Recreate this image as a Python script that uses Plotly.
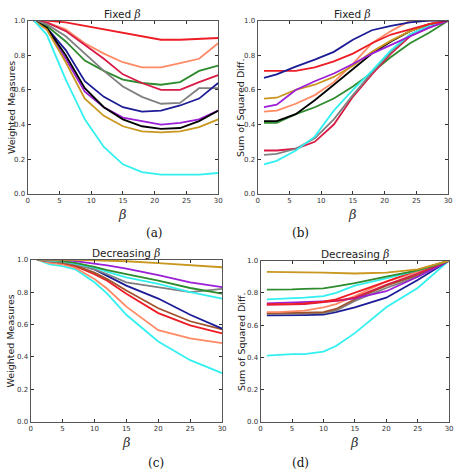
import plotly.graph_objects as go

W, H = 460, 474

beta_fixed = [1, 3, 6, 9, 12, 15, 18, 21, 24, 27, 30]
beta_dec = [1, 3, 5, 7, 10, 12, 15, 20, 25, 30]

# Panel (a): Fixed beta, Weighted Measures
a_red = [1.0, 1.0, 0.99, 0.97, 0.95, 0.93, 0.91, 0.89, 0.89, 0.895, 0.90]
a_coral = [1.0, 0.99, 0.95, 0.87, 0.81, 0.76, 0.73, 0.73, 0.755, 0.78, 0.87]
a_crimson = [1.0, 0.99, 0.94, 0.86, 0.78, 0.69, 0.64, 0.60, 0.60, 0.645, 0.685]
a_green = [1.0, 0.97, 0.88, 0.77, 0.71, 0.66, 0.64, 0.63, 0.645, 0.71, 0.74]
a_gray = [1.0, 0.98, 0.91, 0.81, 0.71, 0.62, 0.56, 0.52, 0.525, 0.61, 0.61]
a_navy = [1.0, 0.96, 0.83, 0.65, 0.56, 0.50, 0.475, 0.48, 0.51, 0.55, 0.64]
a_purple = [1.0, 0.95, 0.78, 0.59, 0.50, 0.44, 0.42, 0.40, 0.41, 0.43, 0.48]
a_black = [1.0, 0.96, 0.80, 0.61, 0.50, 0.43, 0.39, 0.375, 0.38, 0.42, 0.48]
a_gold = [1.0, 0.95, 0.76, 0.55, 0.45, 0.39, 0.36, 0.355, 0.36, 0.385, 0.43]
a_cyan = [1.0, 0.92, 0.66, 0.43, 0.27, 0.17, 0.125, 0.11, 0.11, 0.11, 0.12]

# Panel (b): Fixed beta, Sum of Squared Diff.
b_navy = [0.67, 0.69, 0.735, 0.775, 0.82, 0.89, 0.945, 0.97, 0.99, 1.0, 1.0]
b_red = [0.71, 0.71, 0.71, 0.73, 0.765, 0.81, 0.87, 0.92, 0.95, 0.98, 1.0]
b_purple = [0.50, 0.515, 0.60, 0.65, 0.695, 0.75, 0.81, 0.86, 0.91, 0.96, 1.0]
b_gold = [0.55, 0.555, 0.60, 0.63, 0.675, 0.74, 0.82, 0.885, 0.94, 0.98, 1.0]
b_coral = [0.475, 0.48, 0.52, 0.57, 0.645, 0.75, 0.87, 0.94, 1.0, 1.0, 1.0]
b_black = [0.42, 0.42, 0.46, 0.54, 0.63, 0.72, 0.81, 0.88, 0.94, 0.98, 1.0]
b_green = [0.41, 0.41, 0.46, 0.50, 0.55, 0.62, 0.70, 0.79, 0.87, 0.93, 1.0]
b_crimson = [0.25, 0.25, 0.26, 0.30, 0.40, 0.56, 0.69, 0.81, 0.91, 0.96, 1.0]
b_gray = [0.225, 0.23, 0.26, 0.32, 0.43, 0.57, 0.70, 0.82, 0.92, 0.97, 1.0]
b_cyan = [0.17, 0.19, 0.25, 0.33, 0.48, 0.60, 0.71, 0.83, 0.92, 0.97, 1.0]

# Panel (c): Decreasing beta, Weighted Measures
c_gold = [1.0, 1.0, 1.0, 0.998, 0.995, 0.993, 0.99, 0.978, 0.965, 0.953]
c_purple = [1.0, 1.0, 1.0, 0.99, 0.975, 0.965, 0.945, 0.905, 0.86, 0.83]
c_green = [1.0, 1.0, 0.99, 0.98, 0.955, 0.935, 0.91, 0.87, 0.825, 0.79]
c_cyan_top = [1.0, 0.995, 0.99, 0.975, 0.95, 0.925, 0.89, 0.85, 0.80, 0.76]
c_gray = [1.0, 0.99, 0.985, 0.97, 0.94, 0.91, 0.86, 0.83, 0.80, 0.82]
c_navy = [1.0, 0.995, 0.99, 0.975, 0.94, 0.90, 0.84, 0.76, 0.66, 0.575]
c_brown = [1.0, 0.99, 0.98, 0.965, 0.92, 0.88, 0.81, 0.70, 0.62, 0.57]
c_red = [1.0, 0.99, 0.98, 0.96, 0.91, 0.87, 0.79, 0.67, 0.595, 0.545]
c_coral = [1.0, 0.98, 0.97, 0.95, 0.88, 0.82, 0.71, 0.565, 0.515, 0.485]
c_cyan_low = [1.0, 0.97, 0.96, 0.94, 0.86, 0.79, 0.66, 0.495, 0.38, 0.30]

# Panel (d): Decreasing beta, Sum of Squared Diff.
d_gold = [0.93, 0.93, 0.928, 0.927, 0.925, 0.922, 0.92, 0.925, 0.945, 1.0]
d_green = [0.82, 0.82, 0.822, 0.825, 0.828, 0.84, 0.86, 0.90, 0.94, 1.0]
d_cyan_top = [0.76, 0.762, 0.765, 0.77, 0.78, 0.80, 0.845, 0.89, 0.94, 1.0]
d_red = [0.73, 0.73, 0.73, 0.735, 0.745, 0.76, 0.80, 0.87, 0.94, 1.0]
d_crimson = [0.725, 0.725, 0.728, 0.73, 0.74, 0.75, 0.77, 0.85, 0.92, 1.0]
d_purple = [0.735, 0.737, 0.74, 0.742, 0.745, 0.75, 0.765, 0.81, 0.90, 1.0]
d_coral = [0.68, 0.68, 0.685, 0.69, 0.71, 0.73, 0.78, 0.87, 0.93, 1.0]
d_brown = [0.675, 0.675, 0.675, 0.677, 0.68, 0.70, 0.76, 0.845, 0.91, 1.0]
d_gray = [0.668, 0.668, 0.67, 0.672, 0.675, 0.69, 0.75, 0.83, 0.90, 1.0]
d_navy = [0.66, 0.66, 0.66, 0.662, 0.665, 0.68, 0.71, 0.77, 0.88, 1.0]
d_cyan_low = [0.41, 0.415, 0.42, 0.42, 0.435, 0.47, 0.55, 0.71, 0.83, 1.0]

x_ticks = [0, 5, 10, 15, 20, 25, 30]
y_ticks = [0.0, 0.2, 0.4, 0.6, 0.8, 1.0]
y_tick_labels = ["0.0", "0.2", "0.4", "0.6", "0.8", "1.0"]

RED = "#ee1c25"
CORAL = "#ff8a65"
CRIMSON = "#d81b46"
GREEN = "#2e8b2e"
GRAY = "#808080"
NAVY = "#1c1c96"
PURPLE = "#9b1fd6"
BLACK = "#000000"
GOLD = "#c9961e"
CYAN = "#33f0f0"
BROWN = "#a0522d"

panels = [
    ("x", "y", beta_fixed, [(a_red, RED), (a_coral, CORAL), (a_green, GREEN), (a_crimson, CRIMSON),
                            (a_gray, GRAY), (a_navy, NAVY), (a_purple, PURPLE), (a_black, BLACK),
                            (a_gold, GOLD), (a_cyan, CYAN)]),
    ("x2", "y2", beta_fixed, [(b_green, GREEN), (b_crimson, CRIMSON), (b_gray, GRAY), (b_cyan, CYAN),
                              (b_black, BLACK), (b_coral, CORAL), (b_gold, GOLD), (b_purple, PURPLE),
                              (b_red, RED), (b_navy, NAVY)]),
    ("x3", "y3", beta_dec, [(c_cyan_low, CYAN), (c_coral, CORAL), (c_red, RED), (c_brown, BROWN),
                            (c_navy, NAVY), (c_gray, GRAY), (c_cyan_top, CYAN), (c_green, GREEN),
                            (c_purple, PURPLE), (c_gold, GOLD)]),
    ("x4", "y4", beta_dec, [(d_cyan_low, CYAN), (d_navy, NAVY), (d_gray, GRAY), (d_brown, BROWN),
                            (d_coral, CORAL), (d_purple, PURPLE), (d_crimson, CRIMSON), (d_red, RED),
                            (d_cyan_top, CYAN), (d_green, GREEN), (d_gold, GOLD)]),
]

fig = go.Figure()
for xa, ya, xs, series in panels:
    for vals, col in series:
        fig.add_trace(go.Scatter(x=xs, y=vals, mode="lines", xaxis=xa, yaxis=ya,
                                 line=dict(color=col, width=1.8), showlegend=False,
                                 hoverinfo="skip"))

# pixel boxes (left, top, right, bottom)
boxes = {
    1: (26, 17, 219, 193),
    2: (259, 17, 452, 193),
    3: (29, 260, 223, 425),
    4: (262, 261, 453, 425),
}

def xd(b):
    return [b[0] / W, b[2] / W]

def yd(b):
    return [1 - b[3] / H, 1 - b[1] / H]

tickfont = dict(family="DejaVu Sans", size=7, color="#333333")
layout = dict(width=W, height=H, margin=dict(l=0, r=0, t=0, b=0),
              plot_bgcolor="white", paper_bgcolor="white", showlegend=False)
for i in range(1, 5):
    b = boxes[i]
    sx = "" if i == 1 else str(i)
    layout["xaxis" + sx] = dict(domain=xd(b), range=[0, 30], tickvals=x_ticks,
                                ticks="inside", ticklen=3, tickwidth=0.8, tickcolor="#333",
                                showline=True, linecolor="#555", linewidth=1, mirror="ticks",
                                showgrid=False, zeroline=False, tickfont=tickfont,
                                anchor="y" + sx, fixedrange=True)
    layout["yaxis" + sx] = dict(domain=yd(b), range=[0, 1], tickvals=y_ticks,
                                ticktext=y_tick_labels,
                                ticks="inside", ticklen=3, tickwidth=0.8, tickcolor="#333",
                                showline=True, linecolor="#555", linewidth=1, mirror="ticks",
                                showgrid=False, zeroline=False, tickfont=tickfont,
                                anchor="x" + sx, fixedrange=True)
fig.update_layout(**layout)

beta_html = '<span style="font-family:\'DejaVu Serif\';font-style:italic">β</span>'
titles = {1: "Fixed ", 2: "Fixed ", 3: "Decreasing ", 4: "Decreasing "}
ylabels = {1: "Weighted Measures", 2: "Sum of Squared Diff.",
           3: "Weighted Measures", 4: "Sum of Squared Diff."}
ylab_x = {1: 9, 2: 241, 3: 9, 4: 242}
captions = {1: ("(a)", 155, 233), 2: ("(b)", 302, 233), 3: ("(c)", 156, 467), 4: ("(d)", 302, 467)}

anns = []
for i in range(1, 5):
    b = boxes[i]
    cx = (b[0] + b[2]) / 2 / W
    anns.append(dict(text=titles[i] + beta_html, x=cx, y=1 - b[1] / H, xref="paper", yref="paper",
                     xanchor="center", yanchor="bottom", showarrow=False, yshift=-1,
                     font=dict(family="DejaVu Sans", size=10.5, color="#222")))
    anns.append(dict(text="<i>β</i>", x=cx, y=1 - (b[3] + 11) / H, xref="paper", yref="paper",
                     xanchor="center", yanchor="top", showarrow=False,
                     font=dict(family="DejaVu Serif", size=13, color="#333")))
    anns.append(dict(text=ylabels[i], x=ylab_x[i] / W, y=1 - (b[1] + b[3]) / 2 / H,
                     xref="paper", yref="paper", xanchor="center", yanchor="middle",
                     textangle=-90, showarrow=False,
                     font=dict(family="DejaVu Sans", size=9.5, color="#222")))
    t, px, py = captions[i]
    anns.append(dict(text=t, x=px / W, y=1 - py / H, xref="paper", yref="paper",
                     xanchor="center", yanchor="middle", showarrow=False,
                     font=dict(family="DejaVu Serif", size=12, color="#111")))
fig.update_layout(annotations=anns)

fig.write_html("out.html")
